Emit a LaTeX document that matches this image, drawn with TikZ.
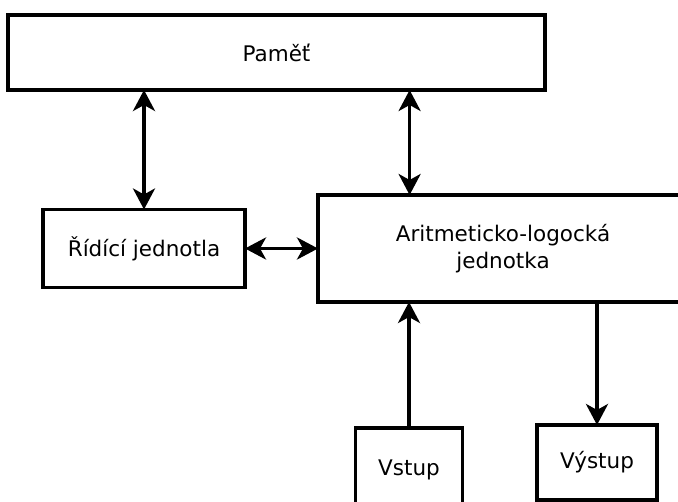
\documentclass[tikz,border=0pt]{standalone}
\usepackage{fontspec}
\setmainfont{DejaVu Sans}
\usepackage{tikz}
\usetikzlibrary{arrows.meta,positioning,calc}

\begin{document}
\begin{tikzpicture}[x=1pt,y=-1pt,
  box/.style={draw,line width=3.5pt,rectangle,align=center,inner sep=0pt,
    font=\fontsize{21.5}{27.5}\selectfont},
  link/.style={line width=3.5pt,{Stealth[length=21pt,width=22pt,inset=6pt]}-{Stealth[length=21pt,width=22pt,inset=6pt]}},
  flow/.style={line width=3.5pt,-{Stealth[length=21pt,width=22pt,inset=6pt]}}]
\useasboundingbox (0,0) rectangle (678,502);
\node[box,minimum width=537pt,minimum height=75pt] (pamet) at (276.5,52.5) {Paměť};
\node[box,minimum width=202pt,minimum height=78pt] (ridici) at (144,248.5) {Řídící jednotla};
\node[box,minimum width=370pt,minimum height=107pt] (alu) at (503,248.5) {Aritmeticko-logocká\\jednotka};
\node[box,minimum width=107pt,minimum height=84pt] (vstup) at (409,470) {Vstup};
\node[box,minimum width=120pt,minimum height=75pt] (vystup) at (597,462.5) {Výstup};
\coordinate (alutop) at ($(alu.north west)!0.25!(alu.north east)$);
% spojeni
\draw[link,shorten <=-1.75pt,shorten >=-1.75pt] (pamet.south -| ridici.north) -- (ridici.north);
\draw[link,shorten <=-1.75pt,shorten >=-1.75pt] (pamet.south -| alutop) -- (alutop);
\draw[link,shorten <=-1.75pt,shorten >=-1.75pt] (ridici.east) -- (alu.west);
\draw[flow,shorten >=-1.75pt] (vstup.north) -- (vstup.north |- alu.south);
\draw[flow,shorten >=-1.75pt] (alu.south -| vystup.north) -- (vystup.north);
\end{tikzpicture}
\end{document}
